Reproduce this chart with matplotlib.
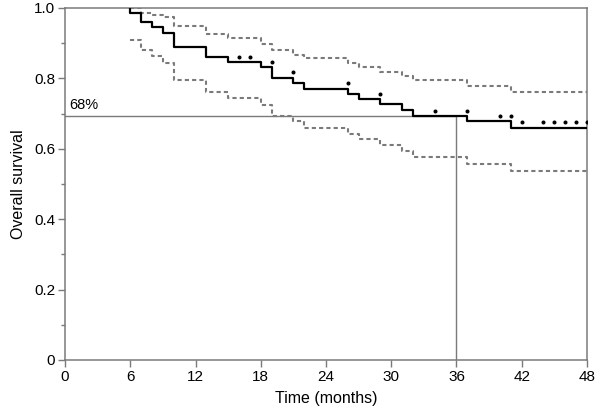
import matplotlib
matplotlib.use('Agg')
import matplotlib.pyplot as plt
import numpy as np

plt.rcParams['font.family'] = ['Liberation Sans', 'DejaVu Sans']

# Kaplan-Meier estimate (step times in months, survival after each step)
km_time = [0, 6, 7, 8, 9, 10, 13, 15, 18, 19, 21, 22, 26, 27, 29, 31, 32, 37, 41, 48]
km_surv = [1.0, 0.987, 0.959, 0.945, 0.930, 0.888, 0.860, 0.847, 0.831, 0.802,
           0.788, 0.771, 0.757, 0.742, 0.727, 0.710, 0.693, 0.679, 0.660, 0.660]

# 95% confidence band
ci_time = [6, 7, 8, 9, 10, 13, 15, 18, 19, 21, 22, 26, 27, 29, 31, 32, 37, 41, 48]
ci_upper = [1.0, 0.987, 0.980, 0.975, 0.949, 0.927, 0.916, 0.899, 0.881, 0.867,
            0.857, 0.845, 0.833, 0.819, 0.806, 0.794, 0.778, 0.762, 0.762]
ci_lower = [0.909, 0.880, 0.863, 0.845, 0.794, 0.761, 0.743, 0.725, 0.693, 0.678,
            0.660, 0.643, 0.627, 0.611, 0.593, 0.576, 0.557, 0.538, 0.538]

# censored observations
censor_time = [16, 17, 19, 21, 26, 29, 34, 37, 40, 41, 42, 44, 45, 46, 47, 48]

median_label = '68%'
ref_surv = 0.693
ref_time = 36

grey = '#7a7a7a'

fig = plt.figure(figsize=(5.97, 4.20), dpi=100)
ax = fig.add_axes([0.1089, 0.1429, 0.8743, 0.8381])

# reference lines
ax.plot([0, ref_time, ref_time], [ref_surv, ref_surv, 0], color=grey, lw=1.0, zorder=1)

# confidence band
ax.step(ci_time, ci_upper, where='post', color=grey, lw=1.5,
        linestyle=(0, (2, 1.5)), zorder=2)
ax.step(ci_time, ci_lower, where='post', color=grey, lw=1.5,
        linestyle=(0, (2, 1.5)), zorder=2)

# survival curve (flat part at 1.0 hides under the top spine, so start at first event)
first = km_time[1]
ax.step([first] + km_time[1:], [km_surv[0]] + km_surv[1:], where='post',
        color='black', lw=1.6, zorder=3)

# censor marks sit just above the curve
idx = np.searchsorted(km_time, censor_time, side='right') - 1
idx[np.array(censor_time) == np.array(km_time)[idx]] -= 1
censor_y = np.array(km_surv)[idx] + 0.015
ax.plot(censor_time, censor_y, linestyle='none', marker='o', ms=1.9,
        color='black', zorder=4)

ax.text(0.4, ref_surv + 0.012, median_label, fontsize=10.5, va='bottom', ha='left')

ax.set_xlim(0, 48)
ax.set_ylim(0, 1.0)
ax.set_xticks(np.arange(0, 49, 6))
ax.set_yticks([0, 0.2, 0.4, 0.6, 0.8, 1.0])
ax.set_yticklabels(['0', '0.2', '0.4', '0.6', '0.8', '1.0'])
ax.set_yticks(np.arange(0.1, 1.0, 0.2), minor=True)

for s in ax.spines.values():
    s.set_color(grey)
    s.set_linewidth(1.1)

ax.tick_params(axis='both', which='major', length=5, width=1.0, color=grey,
               labelsize=11, pad=2)
ax.tick_params(axis='y', which='minor', length=3, width=1.0, color=grey)

ax.set_xlabel('Time (months)', fontsize=11.5, labelpad=5)
ax.set_ylabel('Overall survival', fontsize=11.5, labelpad=6)

fig.savefig('out.png', dpi=100)
